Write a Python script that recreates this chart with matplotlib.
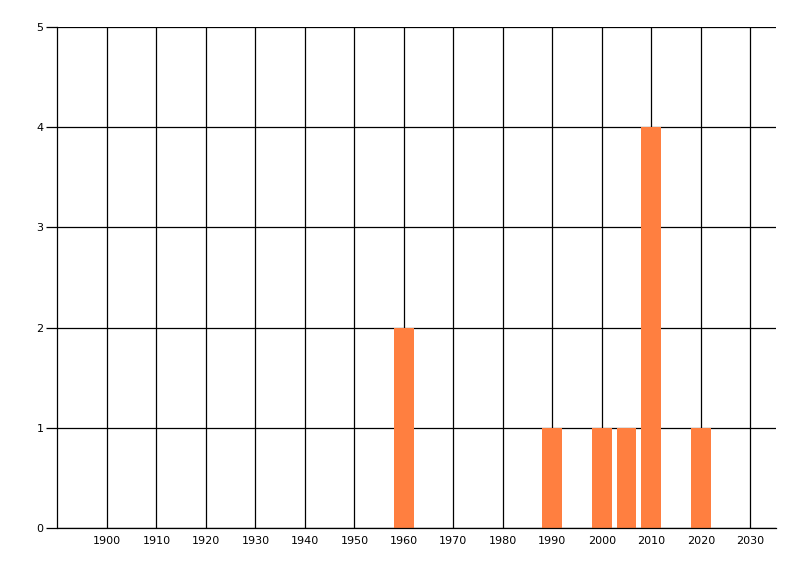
import matplotlib
matplotlib.use("Agg")
import matplotlib.pyplot as plt

years = [1960, 1990, 2000, 2005, 2010, 2020]
counts = [2, 1, 1, 1, 4, 1]
x_ticks = list(range(1900, 2031, 10))
y_ticks = [0, 1, 2, 3, 4, 5]

fig = plt.figure(figsize=(8, 5.76), dpi=100)
ax = fig.add_axes([57.5 / 800, 1 - 528 / 576, (776 - 57.5) / 800, (528 - 27) / 576])

ax.bar(years, counts, width=4, color='#FF7F40', linewidth=0, antialiased=False, zorder=3)

ax.set_xlim(1890, 2035.2)
ax.set_ylim(0, 5)
ax.set_xticks(x_ticks)
ax.set_yticks(y_ticks)
ax.set_axisbelow(True)
ax.grid(True, color='black', linewidth=0.9)

for side in ['top', 'right']:
    ax.spines[side].set_visible(False)
for side in ['left', 'bottom']:
    ax.spines[side].set_linewidth(0.9)
    ax.spines[side].set_zorder(4)

ax.tick_params(axis='x', length=0, pad=6, labelsize=8)
ax.tick_params(axis='y', length=8, width=0.9, pad=2, labelsize=8)

fig.savefig('out.png', dpi=100)
